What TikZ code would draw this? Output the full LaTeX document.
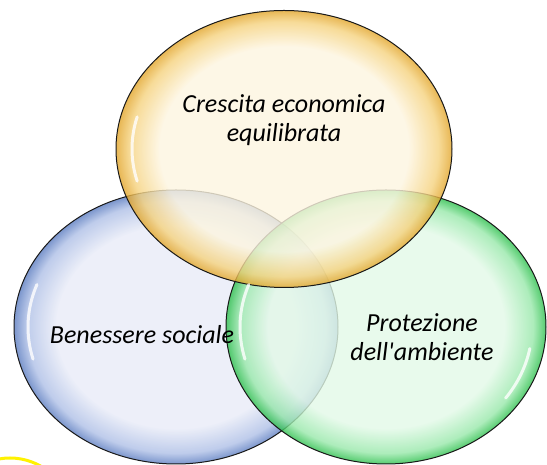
\documentclass[tikz,border=0pt]{standalone}
\usepackage{fontspec}
\setmainfont{Carlito}
\usepackage{tikz}
\usetikzlibrary{shapes.geometric, positioning, calc}
\definecolor{ycream}{HTML}{FDF5E0}
\definecolor{ymid}{HTML}{F5D27E}
\definecolor{yedge}{HTML}{E2A52A}
\definecolor{bcream}{HTML}{E8EBF7}
\definecolor{bmid}{HTML}{AEBFE6}
\definecolor{bedge}{HTML}{5B7CC0}
\definecolor{gcream}{HTML}{E2F9E7}
\definecolor{gmid}{HTML}{98E8AA}
\definecolor{gedge}{HTML}{2CBF4C}
\pgfdeclareradialshading{yshade}{\pgfpoint{0bp}{0bp}}{color(0bp)=(ycream); color(18.5bp)=(ycream); color(23bp)=(ymid); color(25bp)=(yedge); color(50bp)=(yedge)}
\pgfdeclareradialshading{bshade}{\pgfpoint{0bp}{0bp}}{color(0bp)=(bcream); color(18.5bp)=(bcream); color(23bp)=(bmid); color(25bp)=(bedge); color(50bp)=(bedge)}
\pgfdeclareradialshading{gshade}{\pgfpoint{0bp}{0bp}}{color(0bp)=(gcream); color(18.5bp)=(gcream); color(23bp)=(gmid); color(25bp)=(gedge); color(50bp)=(gedge)}
\tikzstyle{bubble} = [ellipse, inner sep=0pt, shade, draw=black!90, line width=1pt, fill opacity=0.8]
\tikzstyle{vtext} = [font=\itshape\fontsize{26}{29}\selectfont, align=center, text=black]
\tikzstyle{gloss} = [white, line width=3pt, line cap=round, opacity=0.8]

\begin{document}
\begin{tikzpicture}[x=1pt, y=1pt]
\useasboundingbox (0,0) rectangle (547,465);
\node (blue) [bubble, shading=bshade, minimum width=324pt, minimum height=274pt] at (176,138) {};
\node (green) [bubble, shading=gshade, minimum width=320pt, minimum height=274pt] at (386,138) {};
\node (yellow) [bubble, shading=yshade, minimum width=336pt, minimum height=277pt] at (284,316) {};
\draw [gloss] ($(yellow.center)+(165:152 and 124)$) arc[start angle=165, end angle=195, x radius=152, y radius=124];
\draw [gloss] ($(blue.center)+(160:148 and 124)$) arc[start angle=160, end angle=195, x radius=148, y radius=124];
\draw [gloss] ($(green.center)+(160:146 and 124)$) arc[start angle=160, end angle=195, x radius=146, y radius=124];
\draw [gloss] ($(green.center)+(-10:146 and 124)$) arc[start angle=-10, end angle=-35, x radius=146, y radius=124];
\node (t1) [vtext] at (284,345) {Crescita economica\\equilibrata};
\node (t2) [vtext] at (142,130) {Benessere sociale};
\node (t3) [vtext] at (422,128) {Protezione\\dell\textquotesingle ambiente};
\draw [yellow, line width=3pt] (10,-55) ++(60:62) arc[start angle=60, end angle=100, radius=62];
\end{tikzpicture}
\end{document}
